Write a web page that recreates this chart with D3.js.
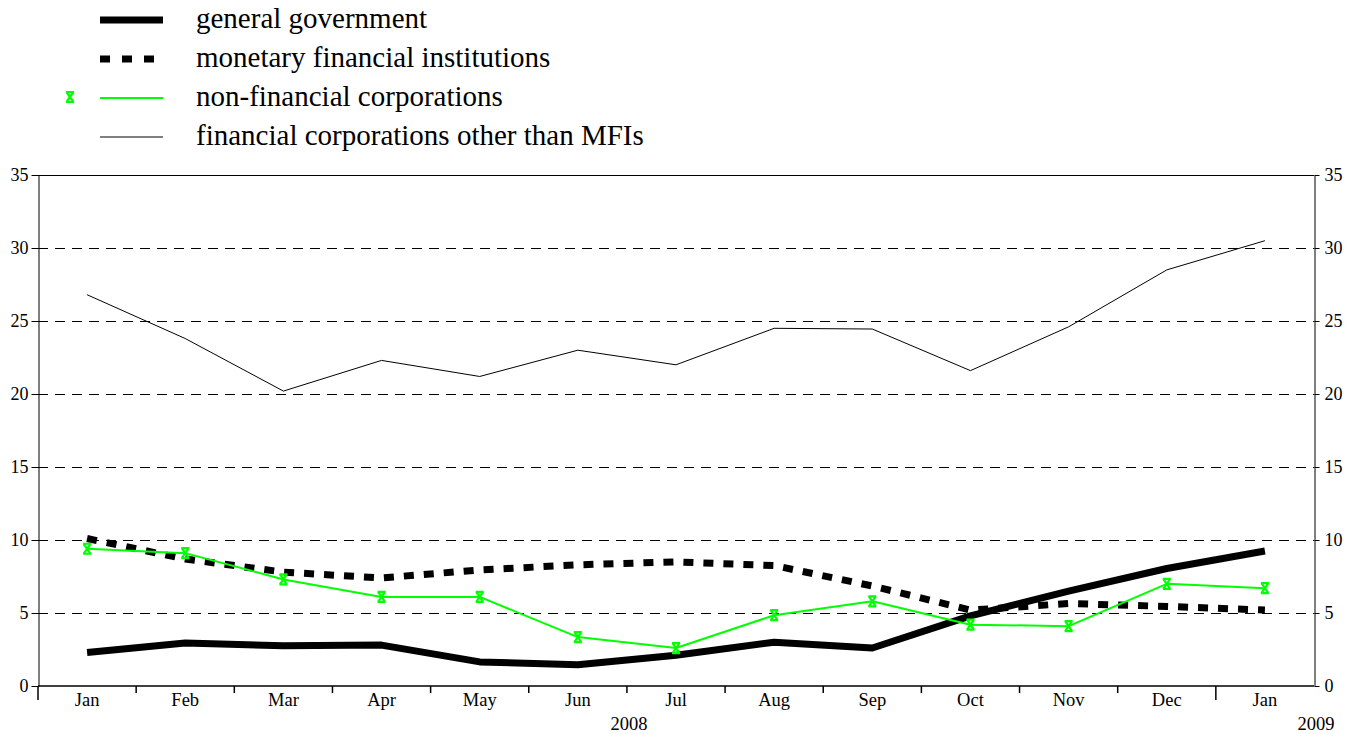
<!DOCTYPE html>
<html>
<head>
<meta charset="utf-8">
<script src="https://cdn.jsdelivr.net/npm/d3@7"></script>
</head>
<body style="margin:0; background:#fff">
<svg id="chart" width="1357" height="734"></svg>
<script>
// data
const months = ["Jan", "Feb", "Mar", "Apr", "May", "Jun", "Jul", "Aug", "Sep", "Oct", "Nov", "Dec", "Jan"];
const years = ["2008", "2009"];
const yTicks = [0, 5, 10, 15, 20, 25, 30, 35];

const generalGov = [2.3, 2.95, 2.75, 2.8, 1.65, 1.45, 2.1, 3.0, 2.6, 4.8, 6.5, 8.05, 9.25];
const mfi = [10.1, 8.7, 7.8, 7.4, 7.95, 8.3, 8.5, 8.25, 6.85, 5.2, 5.65, 5.45, 5.2];
const nonFinCorp = [9.4, 9.1, 7.3, 6.1, 6.1, 3.35, 2.6, 4.85, 5.8, 4.2, 4.1, 7.0, 6.7];
const otherFinCorp = [26.8, 23.8, 20.2, 22.3, 21.2, 23.0, 22.0, 24.5, 24.45, 21.6, 24.6, 28.5, 30.5];

const series = [
  {name: "general government", values: generalGov, color: "#000", width: 7, dash: null, marker: false},
  {name: "monetary financial institutions", values: mfi, color: "#000", width: 7, dash: "10,10", marker: false},
  {name: "non-financial corporations", values: nonFinCorp, color: "#00ff00", width: 2, dash: null, marker: true},
  {name: "financial corporations other than MFIs", values: otherFinCorp, color: "#000", width: 1, dash: null, marker: false}
];

const FONT = "Liberation Serif";
const svg = d3.select("#chart");
const plotL = 38, plotR = 1314, plotT = 175, plotB = 686;

const x = d3.scaleBand().domain(d3.range(months.length)).range([plotL, plotR]);
const y = d3.scaleLinear().domain([0, 35]).range([plotB, plotT]);
const cx = i => x(i) + x.bandwidth() / 2;

// gridlines
svg.append("g").selectAll("line")
  .data(yTicks.filter(d => d > 0 && d < 35))
  .join("line")
  .attr("x1", plotL).attr("x2", plotR)
  .attr("y1", d => Math.round(y(d)) + 0.5).attr("y2", d => Math.round(y(d)) + 0.5)
  .attr("stroke", "#000").attr("stroke-width", 1)
  .attr("stroke-dasharray", "10,7");

// top border
svg.append("line").attr("x1", plotL).attr("x2", plotR)
  .attr("y1", y(35) + 0.5).attr("y2", y(35) + 0.5).attr("stroke", "#000");

// y axes
const yl = svg.append("g").attr("transform", `translate(${plotL + 0.5},0)`)
  .call(d3.axisLeft(y).tickValues(yTicks).tickSize(7).tickPadding(3).tickSizeOuter(0));
const yr = svg.append("g").attr("transform", `translate(${plotR + 0.5},0)`)
  .call(d3.axisRight(y).tickValues(yTicks).tickSize(5).tickPadding(5).tickSizeOuter(0));
[yl, yr].forEach(g => {
  g.attr("font-family", null);
  g.selectAll("text").style("font-family", FONT).style("font-size", "18px").attr("fill", "#000");
  g.selectAll("line, path").attr("stroke", "#000");
});

// x axis baseline
svg.append("line").attr("x1", plotL).attr("x2", plotR)
  .attr("y1", plotB).attr("y2", plotB).attr("stroke", "#000").attr("stroke-width", 1.5);

// x boundary ticks
svg.append("g").selectAll("line")
  .data(d3.range(months.length))
  .join("line")
  .attr("x1", d => x(d)).attr("x2", d => x(d))
  .attr("y1", plotB)
  .attr("y2", d => (d === 0 || d === 12) ? plotB + 14 : plotB + 7)
  .attr("stroke", "#000").attr("stroke-width", 1.5);

// month labels
svg.append("g").selectAll("text")
  .data(months)
  .join("text")
  .attr("x", (d, i) => cx(i))
  .attr("y", 706)
  .attr("text-anchor", "middle")
  .style("font-family", FONT)
  .style("font-size", "18.5px")
  .text(d => d);

// year labels: 2008 under the middle of the year, 2009 at the right end
svg.append("g").selectAll("text")
  .data(years)
  .join("text")
  .attr("x", (d, i) => i === 0 ? x(6) + 2 : plotR + 2)
  .attr("y", 730)
  .attr("text-anchor", "middle")
  .style("font-family", FONT)
  .style("font-size", "18.5px")
  .text(d => d);

// lines
const line = d3.line()
  .x((d, i) => cx(i))
  .y(d => y(d));

const markerPath = "M-4,-5H4M-4,5H4M-3.5,-5L3.5,5M3.5,-5L-3.5,5";

[3, 0, 1, 2].forEach(k => {
  const s = series[k];
  svg.append("path")
    .datum(s.values)
    .attr("fill", "none")
    .attr("stroke", s.color)
    .attr("stroke-width", s.width)
    .attr("stroke-dasharray", s.dash)
    .attr("stroke-linejoin", "round")
    .attr("d", line);
  if (s.marker) {
    svg.append("g").selectAll("path")
      .data(s.values)
      .join("path")
      .attr("transform", (d, i) => `translate(${cx(i)},${y(d)})`)
      .attr("d", markerPath)
      .attr("fill", "none")
      .attr("stroke", s.color)
      .attr("stroke-width", 2.2);
  }
});

// legend
const legend = svg.append("g");
series.forEach((s, i) => {
  const ly = 20 + i * 39;
  legend.append("line")
    .attr("x1", 100).attr("x2", 163)
    .attr("y1", ly).attr("y2", ly)
    .attr("stroke", s.color)
    .attr("stroke-width", s.width)
    .attr("stroke-dasharray", s.dash ? "10,12" : null);
  if (s.marker) {
    legend.append("path")
      .attr("transform", `translate(70,${ly - 1})`)
      .attr("d", markerPath)
      .attr("fill", "none")
      .attr("stroke", s.color)
      .attr("stroke-width", 2.2);
  }
  legend.append("text")
    .attr("x", 196).attr("y", ly + 8)
    .style("font-family", FONT)
    .style("font-size", "29px")
    .text(s.name);
});
</script>
</body>
</html>
